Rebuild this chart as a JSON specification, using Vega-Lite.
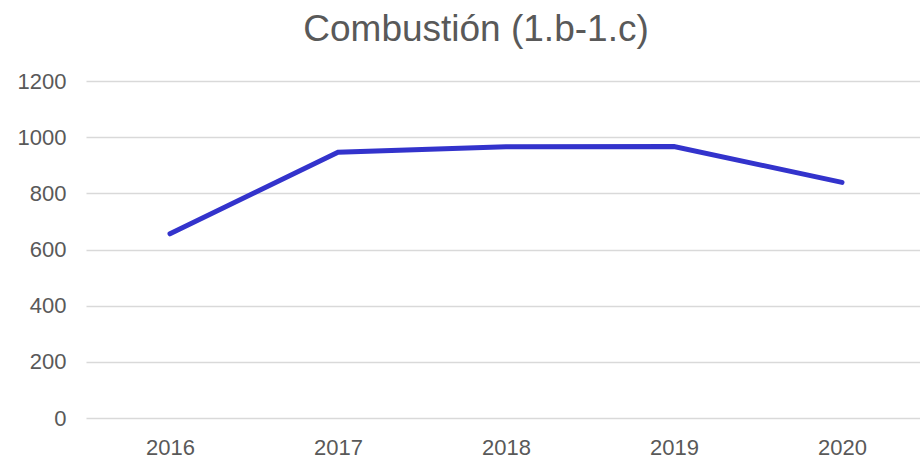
{
  "$schema": "https://vega.github.io/schema/vega-lite/v6.json",
  "width": 840,
  "height": 337,
  "autosize": "none",
  "padding": {"left": 86, "top": 81, "right": 0, "bottom": 40},
  "background": "white",
  "title": {
    "text": "Combustión (1.b-1.c)",
    "font": "Liberation Sans",
    "fontSize": 37,
    "fontWeight": "normal",
    "color": "#595959",
    "anchor": "middle",
    "dx": -30,
    "offset": 21
  },
  "data": {
    "values": [
      {"year": "2016", "value": 656},
      {"year": "2017", "value": 946},
      {"year": "2018", "value": 966},
      {"year": "2019", "value": 967},
      {"year": "2020", "value": 839}
    ]
  },
  "config": {
    "view": {"stroke": null},
    "axis": {
      "labelFont": "Liberation Sans",
      "labelFontSize": 22,
      "labelColor": "#595959",
      "domain": false,
      "ticks": false,
      "title": null
    }
  },
  "mark": {"type": "line", "color": "#3333CC", "strokeWidth": 5, "strokeCap": "round", "strokeJoin": "miter"},
  "encoding": {
    "x": {
      "field": "year",
      "type": "ordinal",
      "scale": {"paddingInner": 0, "paddingOuter": 0},
      "axis": {"labelAngle": 0, "grid": false, "labelPadding": 19}
    },
    "y": {
      "field": "value",
      "type": "quantitative",
      "scale": {"domain": [0, 1200], "nice": false},
      "axis": {"values": [0, 200, 400, 600, 800, 1000, 1200], "format": "d", "gridColor": "#d9d9d9", "gridWidth": 1.5, "labelPadding": 20}
    }
  }
}
